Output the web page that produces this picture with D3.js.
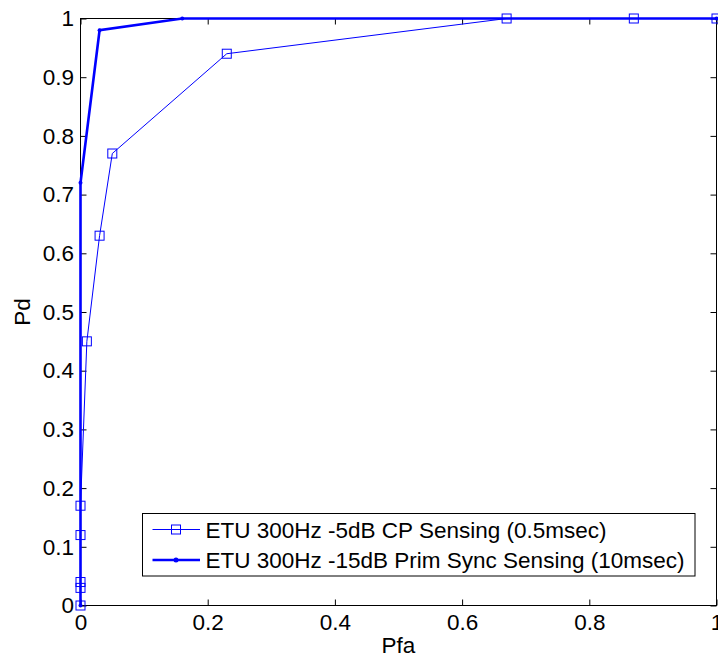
<!DOCTYPE html>
<html>
<head>
<meta charset="utf-8">
<script src="https://cdn.jsdelivr.net/npm/d3@7"></script>
<style>
  body { margin: 0; background: #fff; }
  text { font-family: "Liberation Sans", Arial, Helvetica, sans-serif; fill: #000; }
</style>
</head>
<body>
<script>
//============ ROC curves =========//
var cpPfa = [0, 0, 0, 0, 0, 0.01, 0.03, 0.05, 0.23, 0.67, 0.87, 1],
  cpPd = [0, 0.03, 0.04, 0.12, 0.17, 0.45, 0.63, 0.77, 0.94, 1, 1, 1];

var syncPfa = [0, 0, 0.03, 0.16, 1],
  syncPd = [0, 0.72, 0.98, 1, 1];

var seriesNames = ['ETU 300Hz -5dB CP Sensing (0.5msec)',
  'ETU 300Hz -15dB Prim Sync Sensing (10msec)'];

var xTicks = [0, 0.2, 0.4, 0.6, 0.8, 1],
  yTicks = [0, 0.1, 0.2, 0.3, 0.4, 0.5, 0.6, 0.7, 0.8, 0.9, 1];

var lineColor = '#0000ff',
  fontSize = 22.5,
  tickLen = 6;

var width = 718, height = 659;
var plot = {left: 80.5, right: 716.5, top: 18.5, bottom: 605.5};

var x = d3.scaleLinear().domain([0, 1]).range([plot.left, plot.right]);
var y = d3.scaleLinear().domain([0, 1]).range([plot.bottom, plot.top]);

var svg = d3.select('body').append('svg')
  .attr('width', width)
  .attr('height', height);

// axes box with inward ticks on all four sides
var fmt = function(d) { return d3.format('')(+d.toFixed(1)); };

svg.append('g')
  .attr('transform', 'translate(0,' + plot.bottom + ')')
  .call(d3.axisBottom(x).tickValues(xTicks).tickSizeInner(-tickLen).tickSizeOuter(0).tickPadding(9).tickFormat(fmt))
  .call(function(g) {
    g.select('.domain').remove();
    g.selectAll('text').style('font-size', fontSize + 'px').style('font-family', null).attr('dy', '0.71em');
  });

svg.append('g')
  .attr('transform', 'translate(0,' + plot.top + ')')
  .call(d3.axisTop(x).tickValues(xTicks).tickSizeInner(-tickLen).tickSizeOuter(0).tickFormat(''))
  .call(function(g) { g.select('.domain').remove(); });

svg.append('g')
  .attr('transform', 'translate(' + plot.left + ',0)')
  .call(d3.axisLeft(y).tickValues(yTicks).tickSizeInner(-tickLen).tickSizeOuter(0).tickPadding(6.5).tickFormat(fmt))
  .call(function(g) {
    g.select('.domain').remove();
    g.selectAll('text').style('font-size', fontSize + 'px').style('font-family', null);
  });

svg.append('g')
  .attr('transform', 'translate(' + plot.right + ',0)')
  .call(d3.axisRight(y).tickValues(yTicks).tickSizeInner(-tickLen).tickSizeOuter(0).tickFormat(''))
  .call(function(g) { g.select('.domain').remove(); });

svg.selectAll('.tick line').attr('stroke', '#000');

svg.append('rect')
  .attr('x', plot.left).attr('y', plot.top)
  .attr('width', plot.right - plot.left).attr('height', plot.bottom - plot.top)
  .attr('fill', 'none').attr('stroke', '#000').attr('stroke-width', 1);

// axis labels
svg.append('text')
  .attr('x', (plot.left + plot.right) / 2)
  .attr('y', 653)
  .attr('text-anchor', 'middle')
  .style('font-size', fontSize + 'px')
  .text('Pfa');

svg.append('text')
  .attr('transform', 'translate(30,' + (plot.top + plot.bottom) / 2 + ') rotate(-90)')
  .attr('text-anchor', 'middle')
  .style('font-size', fontSize + 'px')
  .text('Pd');

// data
var cpData = cpPfa.map(function(d, i) { return {x: d, y: cpPd[i]}; });
var syncData = syncPfa.map(function(d, i) { return {x: d, y: syncPd[i]}; });

var line = d3.line()
  .x(function(d) { return x(d.x); })
  .y(function(d) { return y(d.y); });

svg.append('path')
  .datum(syncData)
  .attr('d', line)
  .attr('fill', 'none')
  .attr('stroke', lineColor)
  .attr('stroke-width', 2.6)
  .attr('stroke-linejoin', 'miter');

svg.selectAll('.syncDot')
  .data(syncData)
  .enter().append('circle')
  .attr('class', 'syncDot')
  .attr('cx', function(d) { return x(d.x); })
  .attr('cy', function(d) { return y(d.y); })
  .attr('r', 2)
  .attr('fill', lineColor);

svg.append('path')
  .datum(cpData)
  .attr('d', line)
  .attr('fill', 'none')
  .attr('stroke', lineColor)
  .attr('stroke-width', 1);

var sq = 9;
svg.selectAll('.cpMark')
  .data(cpData)
  .enter().append('rect')
  .attr('class', 'cpMark')
  .attr('x', function(d) { return x(d.x) - sq / 2; })
  .attr('y', function(d) { return y(d.y) - sq / 2; })
  .attr('width', sq).attr('height', sq)
  .attr('fill', 'none')
  .attr('stroke', lineColor)
  .attr('stroke-width', 1);

// legend
var leg = svg.append('g').attr('transform', 'translate(142.5,513.5)');
leg.append('rect')
  .attr('width', 552.5).attr('height', 62.5)
  .attr('fill', '#fff').attr('stroke', '#000').attr('stroke-width', 1);

var rowY = [16, 46.5];
seriesNames.forEach(function(name, i) {
  var row = leg.append('g').attr('transform', 'translate(0,' + rowY[i] + ')');
  row.append('line')
    .attr('x1', 10).attr('x2', 57.5)
    .attr('stroke', lineColor)
    .attr('stroke-width', i === 0 ? 1 : 2.6);
  if (i === 0) {
    row.append('rect')
      .attr('x', 33.5 - sq / 2).attr('y', -sq / 2)
      .attr('width', sq).attr('height', sq)
      .attr('fill', 'none').attr('stroke', lineColor);
  } else {
    row.append('circle').attr('cx', 33.5).attr('r', 2.5).attr('fill', lineColor);
  }
  row.append('text')
    .attr('x', 63)
    .attr('dy', '0.36em')
    .style('font-size', fontSize + 'px')
    .text(name);
});
</script>
</body>
</html>
